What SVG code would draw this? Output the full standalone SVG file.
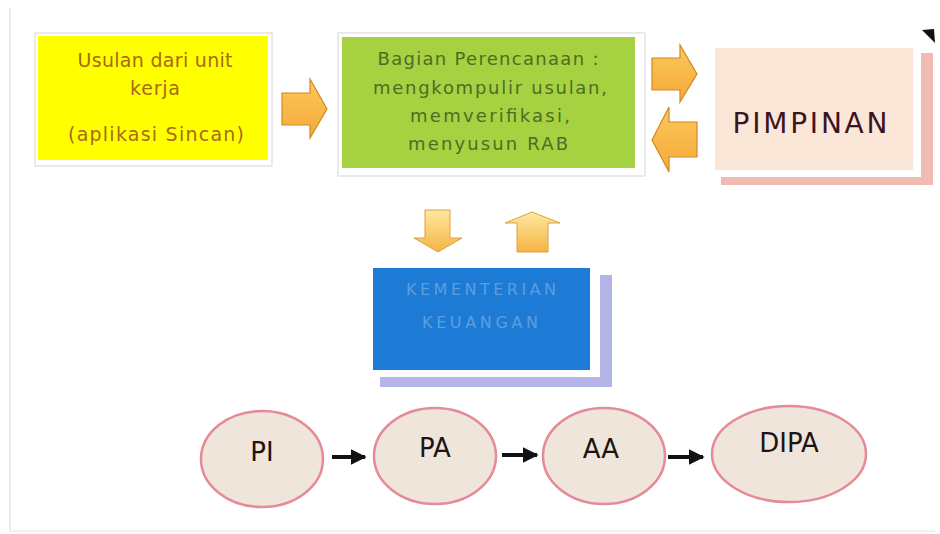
<svg xmlns="http://www.w3.org/2000/svg" width="940" height="534" viewBox="0 0 940 534">
<style>
.t{font-family:"DejaVu Sans","Liberation Sans",sans-serif;}
.blk{fill:url(#og);stroke:#d08a20;stroke-width:1.2;}
.blkv{fill:url(#ogv);stroke:#e0a040;stroke-width:1;}
.ell{fill:#efe5da;stroke:#e58a98;stroke-width:2.5;}
.et{font-family:"DejaVu Sans","Liberation Sans",sans-serif;font-size:26px;fill:#1e1414;text-anchor:middle;}
.frame{fill:#ffffff;stroke:#dcdcdc;stroke-width:1.2;}
</style>
<defs>
<linearGradient id="og" x1="0" y1="0" x2="0" y2="1">
<stop offset="0" stop-color="#fcc85a"/><stop offset="1" stop-color="#f5a93a"/>
</linearGradient>
<linearGradient id="ogv" x1="0" y1="0" x2="0" y2="1">
<stop offset="0" stop-color="#fde9a0"/><stop offset="1" stop-color="#f6b444"/>
</linearGradient>
<marker id="ah" viewBox="0 0 10 10" refX="9" refY="5" markerWidth="4" markerHeight="4" orient="auto">
<path d="M0,0 L10,5 L0,10 z" fill="#111"/>
</marker>
</defs>
<rect width="940" height="534" fill="#ffffff"/>
<line x1="10" y1="8" x2="10" y2="531" stroke="#e6e6e6" stroke-width="1.5"/>
<line x1="10" y1="531" x2="935" y2="531" stroke="#ececec" stroke-width="1.5"/>

<g id="node-usulan">
<rect class="frame" x="35" y="33" width="237" height="133"/>
<rect x="38" y="36" width="230" height="124" fill="#ffff00"/>
<g class="t" font-size="19" fill="#a86a12" text-anchor="middle">
<text x="155" y="67" textLength="155" lengthAdjust="spacing">Usulan dari unit</text>
<text x="155" y="95" textLength="50" lengthAdjust="spacing">kerja</text>
<text x="156" y="141" textLength="176" lengthAdjust="spacing">(aplikasi Sincan)</text>
</g>
</g>

<g id="node-perencanaan">
<rect class="frame" x="338" y="33" width="307" height="143"/>
<rect x="342" y="37" width="293" height="131" fill="#a6d140"/>
<g class="t" font-size="18" fill="#4c6e24" text-anchor="middle">
<text x="488" y="65" textLength="221" lengthAdjust="spacing">Bagian Perencanaan :</text>
<text x="490" y="94" textLength="234" lengthAdjust="spacing">mengkompulir usulan,</text>
<text x="490" y="122" textLength="160" lengthAdjust="spacing">memverifikasi,</text>
<text x="488" y="150" textLength="160" lengthAdjust="spacing">menyusun RAB</text>
</g>
</g>

<g id="node-pimpinan">
<rect x="721" y="53" width="212" height="132" fill="#f1bcb4"/>
<rect x="715" y="48" width="206" height="129" fill="#ffffff"/>
<rect x="715" y="48" width="198" height="122" fill="#fbe7d7"/>
<path d="M922,30 L934,29 L935,43 Z" fill="#111"/>
<text class="t" x="810" y="133" font-size="28" fill="#3a1422" text-anchor="middle" textLength="155" lengthAdjust="spacing">PIMPINAN</text>
</g>

<g id="node-kemenkeu">
<rect x="380" y="275" width="232" height="112" fill="#b4b4e6"/>
<rect x="373" y="268" width="227" height="109" fill="#ffffff"/>
<rect x="373" y="268" width="217" height="102" fill="#1d7bd6"/>
<g class="t" font-size="16" fill="#5b9ee0" text-anchor="middle">
<text x="481" y="295" textLength="150" lengthAdjust="spacing">KEMENTERIAN</text>
<text x="480" y="328" textLength="116" lengthAdjust="spacing">KEUANGAN</text>
</g>
</g>

<g id="node-pi">
<ellipse class="ell" cx="262" cy="459" rx="61" ry="48"/>
<text class="et" x="262" y="461">PI</text>
</g>
<g id="node-pa">
<ellipse class="ell" cx="435" cy="456" rx="61" ry="48"/>
<text class="et" x="435" y="457">PA</text>
</g>
<g id="node-aa">
<ellipse class="ell" cx="604" cy="456" rx="61" ry="48"/>
<text class="et" x="601" y="458">AA</text>
</g>
<g id="node-dipa">
<ellipse class="ell" cx="789" cy="454" rx="77" ry="48"/>
<text class="et" x="789" y="452">DIPA</text>
</g>

<g id="connectors">
<path class="blk" d="M282,93 L310,93 L310,79 L327,109 L310,138 L310,125 L282,125 Z"/>
<path class="blk" d="M652,58 L680,58 L680,45 L697,74 L680,102 L680,90 L652,90 Z"/>
<path class="blk" d="M697,122 L669,122 L669,107 L652,140 L669,172 L669,157 L697,157 Z"/>
<path class="blkv" d="M425,210 L450,210 L450,238 L462,238 L438,252 L414,238 L425,238 Z"/>
<path class="blkv" d="M517,252 L548,252 L548,223 L560,223 L532,212 L505,223 L517,223 Z"/>
<line x1="332" y1="457" x2="365" y2="457" stroke="#111" stroke-width="4" marker-end="url(#ah)"/>
<line x1="502" y1="455" x2="537" y2="455" stroke="#111" stroke-width="4" marker-end="url(#ah)"/>
<line x1="668" y1="457" x2="703" y2="457" stroke="#111" stroke-width="4" marker-end="url(#ah)"/>
</g>
</svg>
